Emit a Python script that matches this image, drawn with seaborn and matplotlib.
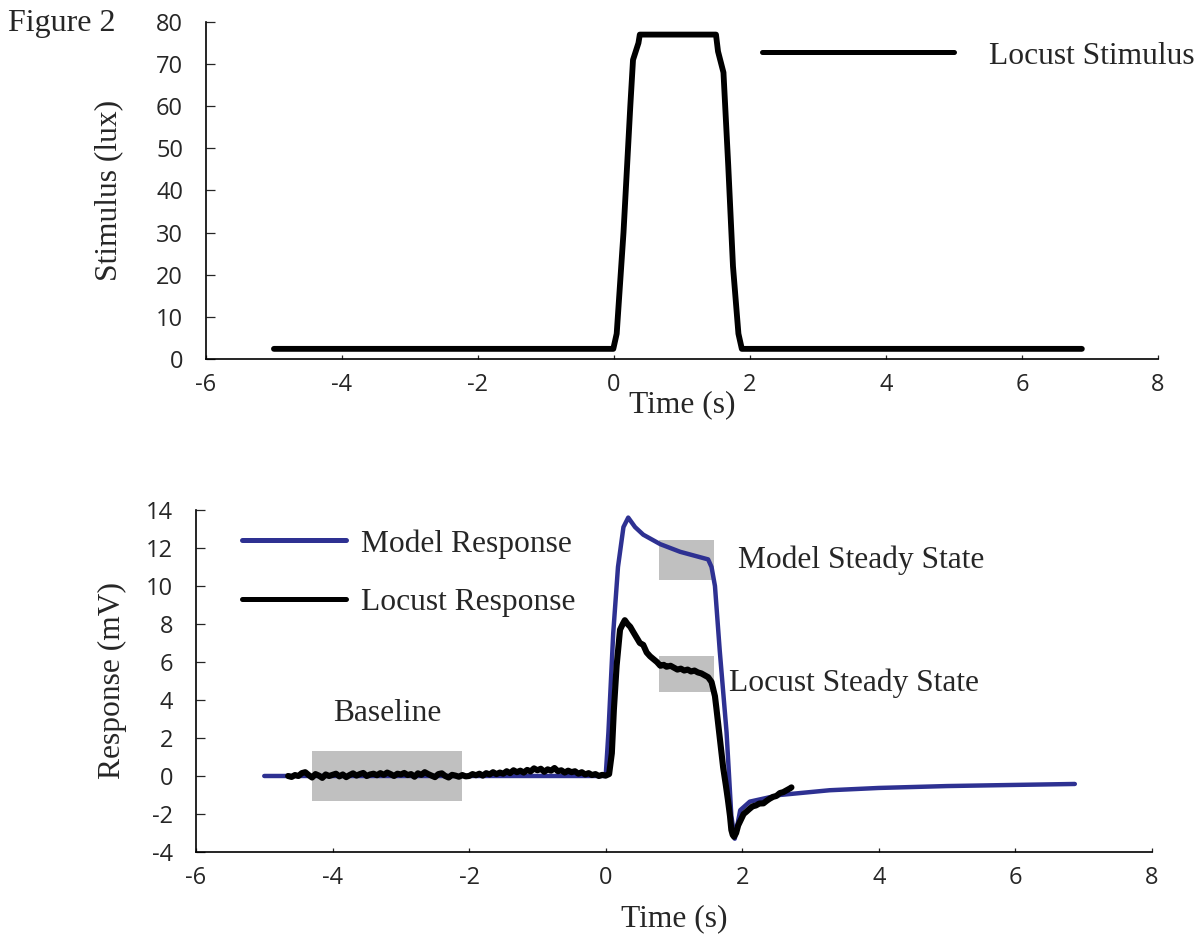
import numpy as np
import pandas as pd
import matplotlib
matplotlib.use("Agg")
import matplotlib.pyplot as plt
import seaborn as sns

# ---------------- data ----------------
stim_t = [-5.0, -0.01, 0.04, 0.14, 0.24, 0.28, 0.36, 0.38, 1.50, 1.53, 1.61, 1.68, 1.75, 1.83, 1.88, 6.88]
stim_v = [2.4, 2.4, 6.0, 30.0, 60.0, 71.0, 75.0, 77.0, 77.0, 73.0, 68.0, 46.0, 22.0, 6.0, 2.4, 2.4]

model_t = [-5.0, 0.0, 0.04, 0.11, 0.18, 0.26, 0.33, 0.43, 0.55, 0.80, 1.09, 1.50, 1.55, 1.60,
           1.67, 1.77, 1.84, 1.89, 1.97, 2.11, 2.55, 3.28, 4.0, 5.0, 6.0, 6.87]
model_v = [0.0, 0.0, 2.3, 7.5, 11.0, 13.1, 13.6, 13.1, 12.7, 12.2, 11.8, 11.4, 11.0, 10.0,
           6.6, 2.3, -2.1, -3.3, -1.8, -1.35, -1.0, -0.75, -0.63, -0.53, -0.47, -0.42]

locust_t = [-4.65, -4.6, -4.55, -4.5, -4.45, -4.4, -4.35, -4.3, -4.25, -4.2, -4.15, -4.1, -4.05, -4.0,
            -3.95, -3.9, -3.85, -3.8, -3.75, -3.7, -3.65, -3.6, -3.55, -3.5, -3.45, -3.4, -3.35, -3.3,
            -3.25, -3.2, -3.15, -3.1, -3.05, -3.0, -2.95, -2.9, -2.85, -2.8, -2.75, -2.7, -2.65, -2.6,
            -2.55, -2.5, -2.45, -2.4, -2.35, -2.3, -2.25, -2.2, -2.15, -2.1, -2.05, -2.0, -1.95, -1.9,
            -1.85, -1.8, -1.75, -1.7, -1.65, -1.6, -1.55, -1.5, -1.45, -1.4, -1.35, -1.3, -1.25, -1.2,
            -1.15, -1.1, -1.05, -1.0, -0.95, -0.9, -0.85, -0.8, -0.75, -0.7, -0.65, -0.6, -0.55, -0.5,
            -0.45, -0.4, -0.35, -0.3, -0.25, -0.2, -0.15, -0.1, -0.05, 0.0,
            0.05, 0.09, 0.12, 0.16, 0.21, 0.25, 0.28, 0.32, 0.36, 0.40, 0.45, 0.50, 0.55, 0.60, 0.65,
            0.70, 0.75, 0.80, 0.85, 0.89, 0.95, 1.00, 1.05, 1.10, 1.15, 1.20, 1.25, 1.30, 1.35, 1.40,
            1.45, 1.50, 1.55, 1.60, 1.62, 1.67, 1.72, 1.76, 1.79, 1.82, 1.84, 1.86, 1.88, 1.91, 1.94,
            1.98, 2.02, 2.06, 2.10, 2.15, 2.20, 2.25, 2.31, 2.36, 2.40, 2.45, 2.50, 2.55, 2.60, 2.65,
            2.70, 2.72]
locust_v = [0.0, -0.05, 0.05, 0.0, 0.15, 0.2, 0.05, -0.08, 0.1, 0.02, -0.1, 0.08, 0.0, 0.06,
            0.12, -0.02, 0.08, -0.06, 0.05, 0.14, 0.02, 0.1, 0.16, 0.0, 0.08, 0.12, 0.04, 0.15,
            0.06, 0.18, 0.1, 0.0, 0.12, 0.08, 0.16, 0.05, 0.1, -0.04, 0.14, 0.06, 0.2, 0.1,
            0.02, -0.06, 0.1, 0.14, 0.0, -0.08, 0.06, 0.02, -0.04, 0.05, -0.02, 0.0, 0.1, 0.04,
            0.12, 0.02, 0.15, 0.08, 0.2, 0.1, 0.18, 0.12, 0.25, 0.15, 0.3, 0.2, 0.28, 0.18,
            0.32, 0.24, 0.4, 0.3, 0.38, 0.22, 0.35, 0.28, 0.42, 0.25, 0.3, 0.18, 0.28, 0.2,
            0.25, 0.12, 0.2, 0.08, 0.15, 0.05, 0.1, 0.0, 0.06, 0.02,
            0.1, 1.2, 3.5, 5.8, 7.7, 8.0, 8.2, 8.0, 7.85, 7.6, 7.3, 7.0, 6.9, 6.5, 6.3,
            6.15, 6.0, 5.8, 5.85, 5.75, 5.8, 5.7, 5.6, 5.65, 5.55, 5.6, 5.5, 5.55, 5.45, 5.4,
            5.3, 5.2, 4.95, 4.2, 3.6, 2.0, 0.45, -0.5, -1.26, -2.1, -2.84, -3.1, -3.2, -3.0, -2.6,
            -2.3, -2.0, -1.88, -1.75, -1.6, -1.55, -1.45, -1.44, -1.3, -1.2, -1.1, -1.05, -0.9, -0.85, -0.75,
            -0.65, -0.6]

# shaded analysis windows: (x0, x1, y0, y1)
box_names = ["Baseline", "Model Steady State", "Locust Steady State"]
box_x0 = [-4.3, 0.78, 0.78]
box_x1 = [-2.1, 1.58, 1.58]
box_y0 = [-1.3, 10.3, 4.4]
box_y1 = [1.3, 12.4, 6.3]
label_x = [-3.99, 1.94, 1.80]
label_y = [3.3, 11.37, 4.89]

top_xticks = [-6, -4, -2, 0, 2, 4, 6, 8]
top_yticks = [0, 10, 20, 30, 40, 50, 60, 70, 80]
bot_yticks = [-4, -2, 0, 2, 4, 6, 8, 10, 12, 14]

# ---------------- style ----------------
sns.set_style("ticks")
SERIF = ["Liberation Serif", "DejaVu Serif"]
SANS = ["Open Sans", "DejaVu Sans"]
plt.rcParams["font.family"] = SANS
BLUE = "#2E3192"
GRAY = "#C0C0C0"
TXT = 22.7

fig = plt.figure(figsize=(12.03, 9.38), dpi=100)
ax1 = fig.add_axes([0.1712, 0.6173, 0.7914, 0.3593])
ax2 = fig.add_axes([0.1629, 0.0917, 0.7947, 0.3646])

stim_df = pd.DataFrame({"t": stim_t, "v": stim_v})
model_df = pd.DataFrame({"t": model_t, "v": model_v})
loc_df = pd.DataFrame({"t": locust_t, "v": locust_v})

sns.lineplot(data=stim_df, x="t", y="v", ax=ax1, color="black", linewidth=4.2,
             estimator=None, sort=False, label="Locust Stimulus", legend=False)

for x0, x1, y0, y1 in zip(box_x0, box_x1, box_y0, box_y1):
    ax2.fill_between([x0, x1], [y0, y0], [y1, y1], color=GRAY, linewidth=0, zorder=1)
for name, lx, ly in zip(box_names, label_x, label_y):
    ax2.text(lx, ly, name, ha="left", va="center", fontsize=TXT, family=SERIF, zorder=5)

sns.lineplot(data=model_df, x="t", y="v", ax=ax2, color=BLUE, linewidth=3.2,
             estimator=None, sort=False, label="Model Response", legend=False, zorder=3)
sns.lineplot(data=loc_df, x="t", y="v", ax=ax2, color="black", linewidth=4.4,
             estimator=None, sort=False, label="Locust Response", legend=False, zorder=4)

for ax, yt, ylim, ylab, lx in [(ax1, top_yticks, (0, 80), "Stimulus (lux)", -0.087),
                                (ax2, bot_yticks, (-4, 14), "Response (mV)", -0.072)]:
    ax.set_xlim(-6, 8)
    ax.set_ylim(*ylim)
    ax.set_xticks(top_xticks)
    ax.set_yticks(yt)
    ax.set_xticklabels([str(v) for v in top_xticks])
    ax.set_yticklabels([str(v) for v in yt])
    ax.tick_params(axis="y", direction="in", length=6.5, width=0.9, pad=16.5, labelsize=17)
    ax.tick_params(axis="x", direction="in", length=3, width=0.9, pad=10, labelsize=17)
    for s in ["top", "right"]:
        ax.spines[s].set_visible(False)
    for s in ["left", "bottom"]:
        ax.spines[s].set_linewidth(1.2)
        ax.spines[s].set_color("black")
    ax.set_ylabel(ylab, fontsize=TXT, family=SERIF)
    ax.set_xlabel("Time (s)", fontsize=TXT, family=SERIF)
    ax.yaxis.set_label_coords(lx, 0.5)
    for tl in ax.get_xticklabels() + ax.get_yticklabels():
        tl.set_family(SANS)

ax1.xaxis.set_label_coords(0.5, -0.092)
ax2.xaxis.set_label_coords(0.5, -0.152)

leg1 = ax1.legend(loc="upper left", bbox_to_anchor=(0.6334, 0.9558), bbox_transform=fig.transFigure,
                  frameon=False, borderpad=0, borderaxespad=0, handlelength=6.1, handletextpad=1.1,
                  prop={"family": SERIF, "size": TXT})
for h in leg1.get_lines():
    h.set_linewidth(3.6)

leg2 = ax2.legend(loc="upper left", bbox_to_anchor=(0.2012, 0.4360), bbox_transform=fig.transFigure,
                  frameon=False, borderpad=0, borderaxespad=0, handlelength=3.3, handletextpad=0.47,
                  labelspacing=0.92, prop={"family": SERIF, "size": TXT})
for h in leg2.get_lines():
    h.set_linewidth(3.6)

fig.text(8 / 1203, 1 - 24 / 938, "Figure 2", ha="left", va="center", fontsize=23, family=SERIF)

fig.savefig("out.png", dpi=100)
